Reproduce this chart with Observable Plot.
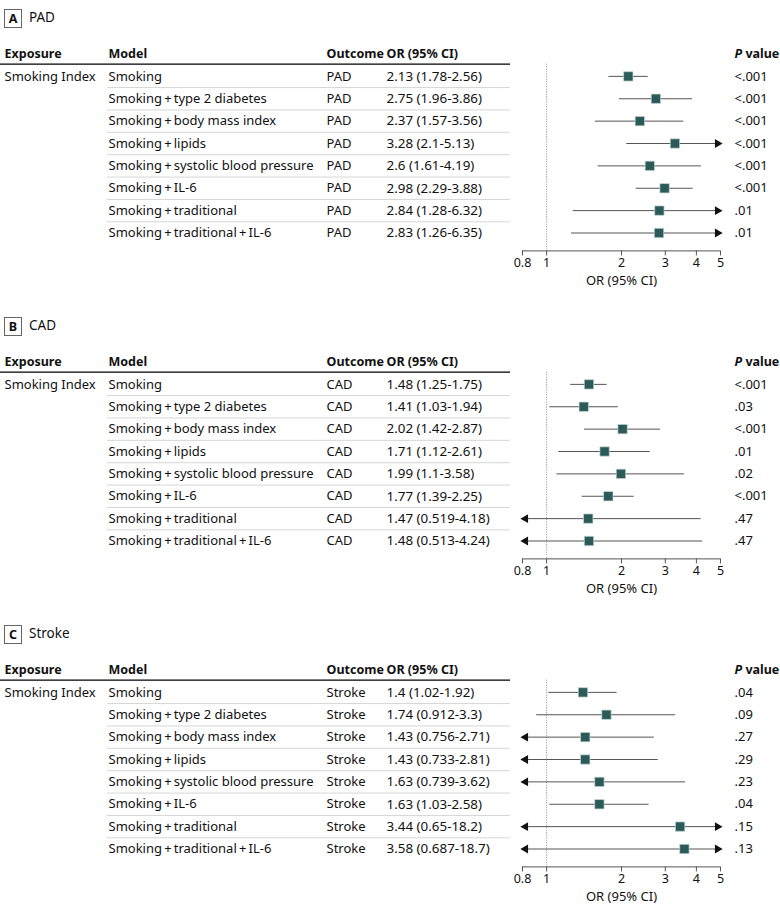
<!DOCTYPE html>
<html><head><meta charset="utf-8">
<script src="https://cdn.jsdelivr.net/npm/d3@7"></script>
<script src="https://cdn.jsdelivr.net/npm/@observablehq/plot@0.6"></script>
<style>
html,body{margin:0;padding:0;background:#fff;overflow:hidden;}
body{font-family:"Noto Sans",sans-serif;color:#111;width:780px;}
.panel{height:308px;position:relative;}
.title{height:40px;position:relative;}
.badge{position:absolute;left:4px;top:9px;width:16px;height:17px;border:1px solid #666;font-weight:bold;font-size:12.5px;text-align:center;line-height:17px;}
.tname{position:absolute;left:29px;top:8px;font-size:13.5px;line-height:19px;}
</style></head><body><div id="chart"></div>
<script>
const models = ["Smoking", "Smoking\u2009+\u2009type 2 diabetes", "Smoking\u2009+\u2009body mass index", "Smoking\u2009+\u2009lipids", "Smoking\u2009+\u2009systolic blood pressure", "Smoking\u2009+\u2009IL-6", "Smoking\u2009+\u2009traditional", "Smoking\u2009+\u2009traditional\u2009+\u2009IL-6"];
const exposureLabel = "Smoking Index";
const headers = ["Exposure", "Model", "Outcome", "OR (95% CI)"];
const xTicks = [0.8, 1, 2, 3, 4, 5];

const padOR = [2.13, 2.75, 2.37, 3.28, 2.6, 2.98, 2.84, 2.83];
const padLo = [1.78, 1.96, 1.57, 2.1, 1.61, 2.29, 1.28, 1.26];
const padHi = [2.56, 3.86, 3.56, 5.13, 4.19, 3.88, 6.32, 6.35];
const padP = ["<.001", "<.001", "<.001", "<.001", "<.001", "<.001", ".01", ".01"];

const cadOR = [1.48, 1.41, 2.02, 1.71, 1.99, 1.77, 1.47, 1.48];
const cadLo = [1.25, 1.03, 1.42, 1.12, 1.1, 1.39, 0.519, 0.513];
const cadHi = [1.75, 1.94, 2.87, 2.61, 3.58, 2.25, 4.18, 4.24];
const cadP = ["<.001", ".03", "<.001", ".01", ".02", "<.001", ".47", ".47"];

const strokeOR = [1.4, 1.74, 1.43, 1.43, 1.63, 1.63, 3.44, 3.58];
const strokeLo = [1.02, 0.912, 0.756, 0.733, 0.739, 1.03, 0.65, 0.687];
const strokeHi = [1.92, 3.3, 2.71, 2.81, 3.62, 2.58, 18.2, 18.7];
const strokeP = [".04", ".09", ".27", ".29", ".23", ".04", ".15", ".13"];

const panelDefs = [
  ["A", "PAD", padOR, padLo, padHi, padP],
  ["B", "CAD", cadOR, cadLo, cadHi, cadP],
  ["C", "Stroke", strokeOR, strokeLo, strokeHi, strokeP]
];

const xMin = xTicks[0], xMax = xTicks[xTicks.length - 1];
const colX = [4, 108, 326, 386];
const pX = 734;
const H = 262;
const yTop = 13.5, yBot = 210.4;
const yDom = [-1, 7.8];
const FONT = "'Noto Sans', sans-serif";

const root = document.getElementById("chart");
for (const [letter, outcome, OR, LO, HI, P] of panelDefs) {
  const rows = models.map((m, i) => ({
    i, model: m, exposure: i === 0 ? exposureLabel : "", outcome,
    or: OR[i], lo: LO[i], hi: HI[i], p: P[i],
    txt: `${OR[i]} (${LO[i]}-${HI[i]})`
  }));
  const panel = document.createElement("div");
  panel.className = "panel";
  const title = document.createElement("div");
  title.className = "title";
  title.innerHTML = `<div class="badge">${letter}</div><div class="tname">${outcome}</div>`;
  panel.appendChild(title);

  const cols = ["exposure", "model", "outcome", "txt"];
  const textMarks = [];
  cols.forEach((c, k) => {
    textMarks.push(Plot.text(rows, {y: "i", text: c, frameAnchor: "left", textAnchor: "start", dx: colX[k], fontSize: k === 3 ? 13.4 : 13}));
    textMarks.push(Plot.text([headers[k]], {y: () => -1, text: d => d, frameAnchor: "left", textAnchor: "start", dx: colX[k], fontWeight: "bold", fontSize: 12.5}));
  });

  const svg = Plot.plot({
    width: 780, height: H,
    marginLeft: 0, marginRight: 0, marginTop: yTop, marginBottom: H - yBot,
    style: {fontFamily: FONT, fontSize: "13px", color: "#111", background: "#fff"},
    x: {type: "log", domain: [xMin, xMax], range: [522, 720]},
    y: {domain: yDom, range: [yTop, yBot], axis: null},
    marks: [
      Plot.ruleY([-0.5], {stroke: "#000", strokeWidth: 1.2, insetRight: 270, dy: -1}),
      Plot.ruleY(rows.slice(0, -1), {y: d => d.i + 0.5, stroke: "#d6d6d6", insetLeft: 107, insetRight: 270}),
      Plot.ruleX([1], {y1: -0.5, y2: yDom[1], stroke: "#888", strokeDasharray: "1,1.5", dy: -1}),
      Plot.ruleY(rows, {y: "i", x1: d => Math.max(d.lo, xMin), x2: d => Math.min(d.hi, xMax), stroke: "#555", strokeWidth: 1}),
      Plot.dot(rows.filter(d => d.hi > xMax), {x: () => xMax, y: "i", symbol: "triangle", rotate: 90, r: 3.3, fill: "#111", stroke: "none", dx: -3}),
      Plot.dot(rows.filter(d => d.lo < xMin), {x: () => xMin, y: "i", symbol: "triangle", rotate: -90, r: 3.3, fill: "#111", stroke: "none", dx: 3}),
      Plot.dot(rows, {x: "or", y: "i", symbol: "square", r: 5.3, fill: "#2b5b58", stroke: "#c9d9d7", strokeWidth: 0.7}),
      ...textMarks,
      Plot.text(rows, {y: "i", text: "p", frameAnchor: "left", textAnchor: "start", dx: pX}),
      Plot.text(["P value"], {y: () => -1, text: d => d, frameAnchor: "left", textAnchor: "start", dx: pX, fontWeight: "bold", fontSize: 12.5}),
      Plot.ruleY([yDom[1]], {x1: xMin, x2: xMax, stroke: "#555"}),
      Plot.axisX({ticks: xTicks, tickFormat: d => String(d), tickSize: 5, tickPadding: 2, label: null, stroke: "#555", fontSize: 12.5}),
      Plot.text(["OR (95% CI)"], {x: Math.sqrt(xMin * xMax), text: d => d, frameAnchor: "bottom", dy: 34})
    ]
  });
  svg.querySelectorAll("text").forEach(t => {
    if (t.textContent === "P value") {
      t.innerHTML = '<tspan font-style="italic">P</tspan> value';
    }
  });
  panel.appendChild(svg);
  root.appendChild(panel);
}
</script></body></html>
